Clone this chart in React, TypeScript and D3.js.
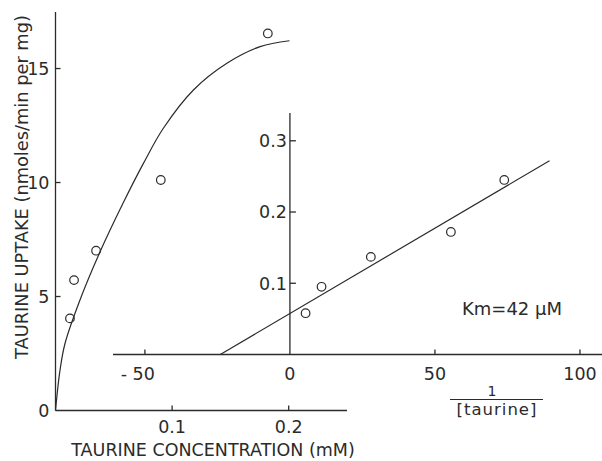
import React from "react";
import * as d3 from "d3";

// main plot: taurine uptake vs concentration
const concMM = [0.0124, 0.0159, 0.0348, 0.0903, 0.1821];
const uptake = [4.04, 5.72, 7.01, 10.11, 16.54];

// hand-drawn saturation curve
const curveX = [0, 0.0039, 0.0082, 0.021, 0.0382, 0.058, 0.0754, 0.0925, 0.1183, 0.147, 0.1755, 0.2007];
const curveY = [0, 1.78, 2.95, 4.85, 6.96, 9.1, 10.84, 12.38, 14.06, 15.23, 15.96, 16.22];

const mainXTicks = [0.1, 0.2];
const mainYTicks = [0, 5, 10, 15];

// inset: double reciprocal plot
const invConc = [5.4, 10.9, 27.9, 55.5, 73.9];
const invUptake = [0.058, 0.095, 0.137, 0.172, 0.245];
const fitX = [-24, 89.5];
const fitY = [0, 0.272];

const insetXTicks = [-50, 0, 50, 100];
const insetYTicks = [0.1, 0.2, 0.3];

const W = 602;
const H = 461;
const ink = "#2b2b2b";
const font = "DejaVu Sans, sans-serif";

export default function App() {
  const x = d3.scaleLinear().domain([0, 0.25]).range([55.5, 347]);
  const y = d3.scaleLinear().domain([0, 17.48]).range([410.5, 12]);

  const ix = d3.scaleLinear().domain([-61, 107.6]).range([113, 602]);
  const iy = d3.scaleLinear().domain([0, 0.339]).range([354.5, 113]);

  const curve = d3
    .line<number>()
    .x((d, i) => x(curveX[i]))
    .y((d) => y(d))
    .curve(d3.curveCatmullRom.alpha(0.5))(curveY);

  const fit = d3
    .line<number>()
    .x((d, i) => ix(fitX[i]))
    .y((d) => iy(d))(fitY);

  return (
    <svg
      width={W}
      height={H}
      style={{ position: "absolute", left: 0, top: 0, background: "#fff" }}
      fontFamily={font}
      fill={ink}
    >
      {/* main axes */}
      <g stroke={ink} strokeWidth={1.3} fill="none">
        <line x1={x(0)} x2={x(0)} y1={y(0)} y2={y.range()[1]} />
        <line x1={x(0)} x2={x.range()[1]} y1={y(0)} y2={y(0)} />
        {mainYTicks.slice(1).map((t) => (
          <line key={t} x1={x(0)} x2={x(0) + 5} y1={y(t)} y2={y(t)} />
        ))}
        {mainXTicks.map((t) => (
          <line key={t} x1={x(t)} x2={x(t)} y1={y(0)} y2={y(0) - 5} />
        ))}
      </g>
      {mainYTicks.map((t) => (
        <text key={t} x={x(0) - 6} y={y(t)} dy="0.36em" textAnchor="end" fontSize={17.5}>
          {t}
        </text>
      ))}
      {mainXTicks.map((t) => (
        <text key={t} x={x(t)} y={433} textAnchor="middle" fontSize={17.5}>
          {t}
        </text>
      ))}
      <text x={213} y={456} textAnchor="middle" fontSize={17.5}>
        TAURINE CONCENTRATION (mM)
      </text>
      <text
        transform={`translate(28,187) rotate(-90)`}
        textAnchor="middle"
        fontSize={17.8}
      >
        TAURINE UPTAKE (nmoles/min per mg)
      </text>

      <path d={curve ?? ""} fill="none" stroke={ink} strokeWidth={1.2} />
      {concMM.map((c, i) => (
        <circle key={i} cx={x(c)} cy={y(uptake[i])} r={4.3} fill="none" stroke={ink} strokeWidth={1.2} />
      ))}

      {/* inset axes */}
      <g stroke={ink} strokeWidth={1.3} fill="none">
        <line x1={ix(0)} x2={ix(0)} y1={iy(0)} y2={iy.range()[1]} />
        <line x1={ix.range()[0]} x2={ix.range()[1]} y1={iy(0)} y2={iy(0)} />
        {insetYTicks.map((t) => (
          <line key={t} x1={ix(0)} x2={ix(0) + 6} y1={iy(t)} y2={iy(t)} />
        ))}
        {insetXTicks
          .filter((t) => t !== 0)
          .map((t) => (
            <line key={t} x1={ix(t)} x2={ix(t)} y1={iy(0)} y2={iy(0) - 5} />
          ))}
      </g>
      {insetYTicks.map((t) => (
        <text key={t} x={ix(0) - 3} y={iy(t)} dy="0.36em" textAnchor="end" fontSize={17.5}>
          {t}
        </text>
      ))}
      {insetXTicks.map((t) => (
        <text
          key={t}
          x={ix(t) + (t < 0 ? 10 : 0)}
          y={380}
          textAnchor={t < 0 ? "end" : "middle"}
          fontSize={17.5}
        >
          {t < 0 ? `- ${Math.abs(t)}` : t}
        </text>
      ))}

      <path d={fit ?? ""} fill="none" stroke={ink} strokeWidth={1.2} />
      {invConc.map((c, i) => (
        <circle key={i} cx={ix(c)} cy={iy(invUptake[i])} r={4.3} fill="none" stroke={ink} strokeWidth={1.2} />
      ))}

      <text x={512} y={315} textAnchor="middle" fontSize={18}>
        Km=42 μM
      </text>
      <text x={492} y={396} textAnchor="middle" fontSize={14}>
        1
      </text>
      <line x1={450} x2={543} y1={399.5} y2={399.5} stroke={ink} strokeWidth={1.2} />
      <text x={497} y={415} textAnchor="middle" fontSize={16.5} letterSpacing={1}>
        [taurine]
      </text>
    </svg>
  );
}
